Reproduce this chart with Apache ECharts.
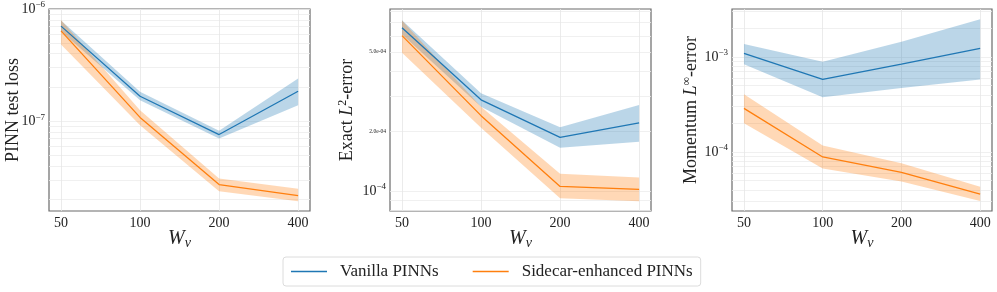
<!DOCTYPE html>
<html><head><meta charset="utf-8">
<script src="https://cdn.jsdelivr.net/npm/echarts@6/dist/echarts.min.js"></script>
<style>html,body{margin:0;padding:0;background:#fff}#c{width:997px;height:292px}</style>
</head><body><div id="c"></div>
<script>
// ---- data ----
const widths = [50, 100, 200, 400];
const xTickLabels = ['50', '100', '200', '400'];
const seriesNames = ['Vanilla PINNs', 'Sidecar-enhanced PINNs'];

// Panel 1: PINN test loss
const p1VanillaMean = [7.05e-7, 1.67e-7, 7.6e-8, 1.85e-7];
const p1VanillaLow  = [6.3e-7, 1.54e-7, 7.0e-8, 1.39e-7];
const p1VanillaHigh = [7.9e-7, 1.83e-7, 8.2e-8, 2.4e-7];
const p1SidecarMean = [6.4e-7, 1.08e-7, 2.72e-8, 2.17e-8];
const p1SidecarLow  = [4.84e-7, 9.2e-8, 2.37e-8, 1.93e-8];
const p1SidecarHigh = [8.0e-7, 1.25e-7, 3.08e-8, 2.5e-8];

// Panel 2: Exact L2 error
const p2VanillaMean = [6.6e-4, 2.87e-4, 1.86e-4, 2.2e-4];
const p2VanillaLow  = [6.1e-4, 2.65e-4, 1.65e-4, 1.77e-4];
const p2VanillaHigh = [7.2e-4, 3.1e-4, 2.09e-4, 2.7e-4];
const p2SidecarMean = [6.03e-4, 2.39e-4, 1.055e-4, 1.02e-4];
const p2SidecarLow  = [4.95e-4, 2.08e-4, 9.2e-5, 8.9e-5];
const p2SidecarHigh = [7.17e-4, 2.65e-4, 1.22e-4, 1.17e-4];

// Panel 3: Momentum Linf error
const p3VanillaMean = [1.09e-3, 5.8e-4, 8.4e-4, 1.23e-3];
const p3VanillaLow  = [8.4e-4, 3.76e-4, 4.7e-4, 5.8e-4];
const p3VanillaHigh = [1.37e-3, 8.9e-4, 1.45e-3, 2.5e-3];
const p3SidecarMean = [2.88e-4, 8.86e-5, 6.1e-5, 3.59e-5];
const p3SidecarLow  = [2.0e-4, 6.7e-5, 4.9e-5, 3.05e-5];
const p3SidecarHigh = [4.05e-4, 1.17e-4, 7.6e-5, 4.3e-5];

// y tick labels (major) per panel
const p1YLabels = [1e-6, 1e-7];
const p2YLabels = [5e-4, 2e-4, 1e-4];
const p3YLabels = [1e-3, 1e-4];

// ---- helpers ----
const BLUE = '#1f77b4', ORANGE = '#ff7f0e';
const FONT = "'Liberation Serif', 'Times New Roman', serif";

function gridValues(lo, hi) {
  const out = [];
  for (let e = Math.floor(Math.log10(lo)); e <= Math.ceil(Math.log10(hi)); e++) {
    for (let m = 1; m <= 9; m++) {
      const v = m * Math.pow(10, e);
      if (v >= lo && v <= hi) out.push(v);
    }
  }
  return out;
}
function pairs(ys) { return widths.map((w, i) => [w, ys[i]]); }
function bandRows(lo, hi) { return widths.map((w, i) => [w, lo[i], hi[i]]); }

const grids = [
  {left: 49, top: 9, width: 261, height: 202},
  {left: 390, top: 9, width: 261, height: 202},
  {left: 732, top: 9, width: 260, height: 202}
];
const yRanges = [[1.58e-8, 1.002e-6], [7.94e-5, 8.2e-4], [2.39e-5, 3.2e-3]];
const yNames = ['PINN test loss', 'Exact {i|L}{s|2}-error', 'Momentum {i|L}{s|∞}-error'];
const yGaps = [27, 32, 30];
const yLabelSets = [p1YLabels, p2YLabels, p3YLabels];
const panels = [
  [p1VanillaMean, p1VanillaLow, p1VanillaHigh, p1SidecarMean, p1SidecarLow, p1SidecarHigh],
  [p2VanillaMean, p2VanillaLow, p2VanillaHigh, p2SidecarMean, p2SidecarLow, p2SidecarHigh],
  [p3VanillaMean, p3VanillaLow, p3VanillaHigh, p3SidecarMean, p3SidecarLow, p3SidecarHigh]
];

function yFormatter(v) {
  const e = Math.round(Math.log10(v));
  const m = v / Math.pow(10, e);
  if (Math.abs(m - 1) < 1e-6) return '{b|10}{s|−' + Math.abs(e) + '}';
  return '{t|' + v.toExponential(1).replace(/e-(\d)$/, 'e-0$1') + '}';
}

function bandRenderer(rows, col) {
  return function (params, api) {
    if (params.dataIndex !== 0) return null;
    const top = rows.map(r => api.coord([r[0], r[2]]));
    const bot = rows.map(r => api.coord([r[0], r[1]])).reverse();
    return {
      type: 'polygon',
      shape: {points: top.concat(bot)},
      style: {fill: col, opacity: 0.3},
      silent: true
    };
  };
}

const xAxes = [], yAxes = [], series = [];
grids.forEach((g, k) => {
  const ticks = widths.slice();
  xAxes.push({
    gridIndex: k, type: 'log', logBase: 2, min: 45, max: 444,
    axisLine: {show: false}, axisTick: {show: false, customValues: ticks},
    splitLine: {show: true, lineStyle: {color: '#e6e6e6', width: 0.8}},
    axisLabel: {customValues: ticks, margin: 5, fontFamily: FONT, fontSize: 14, color: '#222',
      formatter: v => xTickLabels[widths.indexOf(Math.round(v))] ?? ''},
    name: '{w|W}{s|v}', nameLocation: 'middle', nameGap: 17, nameMoveOverlap: false,
    nameTextStyle: {rich: {
      w: {fontFamily: FONT, fontStyle: 'italic', fontSize: 20, color: '#222'},
      s: {fontFamily: FONT, fontStyle: 'italic', fontSize: 14, color: '#222', padding: [8, 0, 0, 0]}
    }}
  });
  const yr = yRanges[k];
  yAxes.push({
    gridIndex: k, type: 'log', min: yr[0], max: yr[1],
    axisLine: {show: false}, axisTick: {show: false, customValues: gridValues(yr[0], yr[1])},
    splitLine: {show: true, lineStyle: {color: '#ececec', width: 0.8}},
    axisLabel: {customValues: yLabelSets[k], margin: 4, formatter: yFormatter,
      rich: {
        b: {fontFamily: FONT, fontSize: 14, color: '#222'},
        s: {fontFamily: FONT, fontSize: 9, color: '#222', padding: [0, 0, 8, 0]},
        t: {fontFamily: FONT, fontSize: 5.5, color: '#222'}
      }},
    name: yNames[k], nameLocation: 'middle', nameGap: yGaps[k], nameRotate: 90, nameMoveOverlap: false,
    nameTextStyle: {fontFamily: FONT, fontSize: 18, color: '#222', rich: {
      i: {fontFamily: FONT, fontStyle: 'italic', fontSize: 18, color: '#222'},
      s: {fontFamily: FONT, fontSize: 12, color: '#222', padding: [0, 0, 9, 0]}
    }}
  });
  const d = panels[k];
  [[d[0], d[1], d[2], BLUE, seriesNames[0]], [d[3], d[4], d[5], ORANGE, seriesNames[1]]].forEach(([mean, lo, hi, col, nm], j) => {
    const rows = bandRows(lo, hi);
    series.push({
      type: 'custom', name: 'band' + k + '_' + j, xAxisIndex: k, yAxisIndex: k,
      data: rows, encode: {x: 0, y: [1, 2]}, renderItem: bandRenderer(rows, col),
      silent: true, z: 1 + j
    });
    series.push({
      type: 'line', name: nm, xAxisIndex: k, yAxisIndex: k,
      data: pairs(mean), symbol: 'none', lineStyle: {color: col, width: 1.3},
      itemStyle: {color: col}, z: 5
    });
  });
});

const chart = echarts.init(document.getElementById('c'), null, {renderer: 'canvas'});
chart.setOption({
  animation: false,
  backgroundColor: '#fff',
  grid: grids.map(g => Object.assign({show: true, borderColor: '#6a6a6a', borderWidth: 1.2, backgroundColor: 'transparent', containLabel: false}, g)),
  xAxis: xAxes,
  yAxis: yAxes,
  legend: {
    data: seriesNames, left: 283, top: 257, width: 431, height: 30,
    icon: 'rect', itemWidth: 36, itemHeight: 1.5, itemGap: 34,
    padding: [6, 8, 6, 8],
    borderColor: '#dcdcdc', borderWidth: 1, borderRadius: 3,
    textStyle: {fontFamily: FONT, fontSize: 17, color: '#222', padding: [0, 0, 0, 8]}
  },
  series: series
});
</script></body></html>
